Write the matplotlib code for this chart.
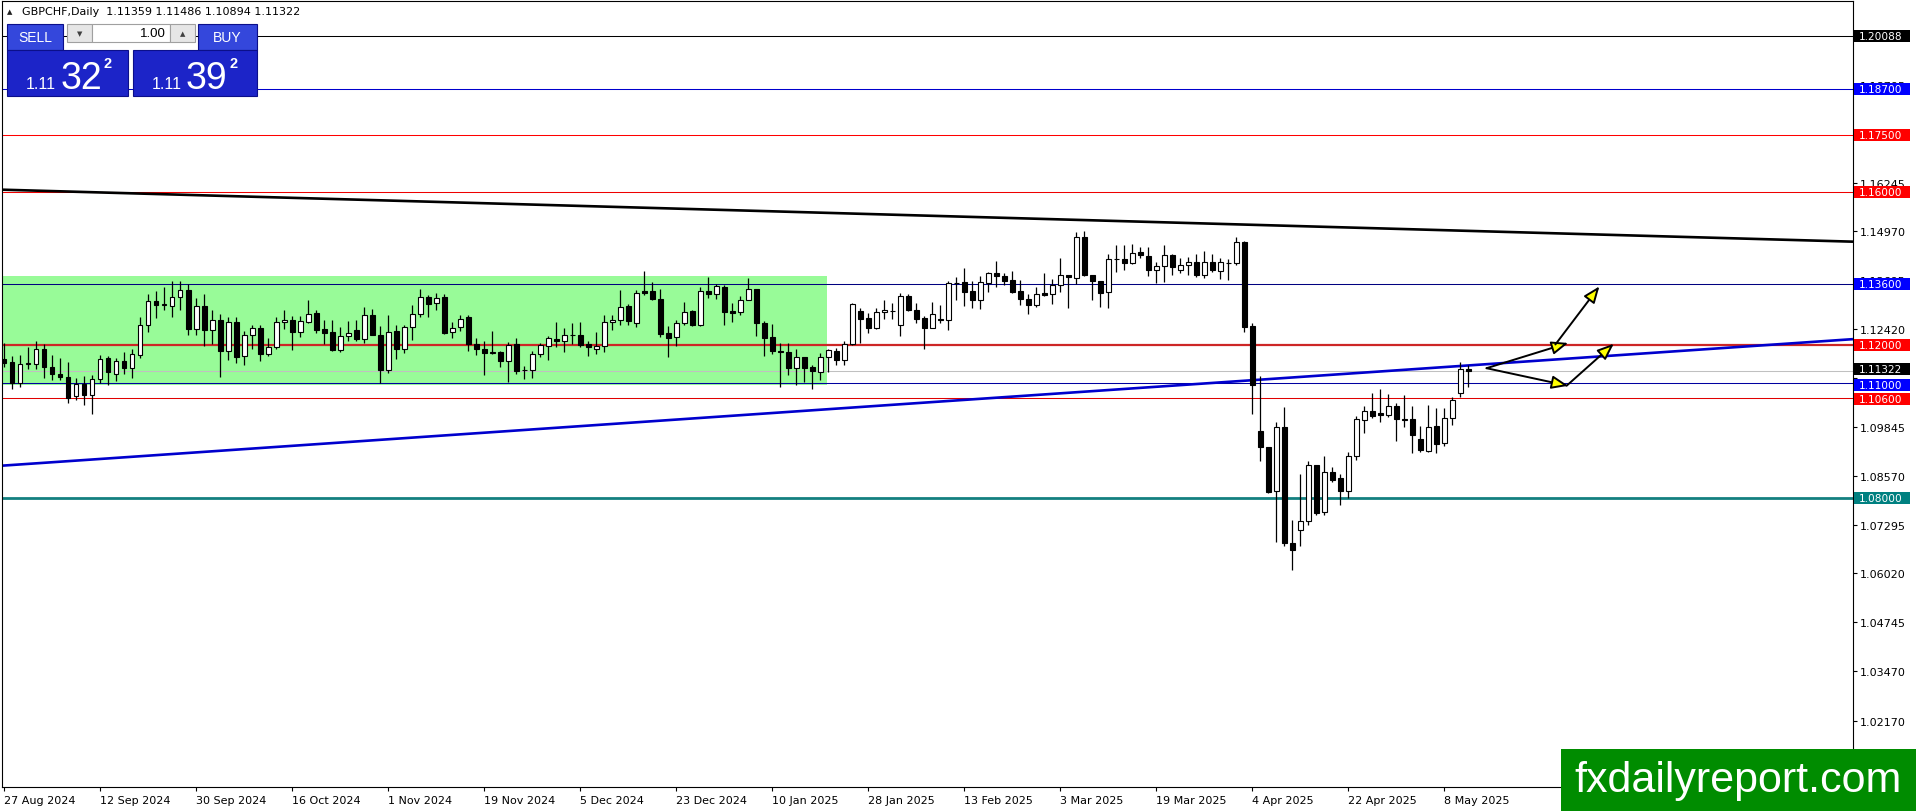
import matplotlib
matplotlib.use('Agg')
import matplotlib.pyplot as plt
import matplotlib.transforms as mtransforms
from matplotlib.patches import Rectangle, FancyArrowPatch
import numpy as np

# GBPCHF daily candles, 27 Aug 2024 .. 13 May 2025 (no bars on 25 Dec / 1 Jan)
opens = [
    # bars 0-45
    1.1164, 1.1155, 1.1101, 1.1150, 1.1151, 1.1190, 1.1143, 1.1123, 1.1117, 1.1065,
    1.1097, 1.1070, 1.1110, 1.1166, 1.1125, 1.1157, 1.1140, 1.1173, 1.1253, 1.1314,
    1.1304, 1.1303, 1.1324, 1.1344, 1.1242, 1.1303, 1.1239, 1.1266, 1.1185, 1.1261,
    1.1170, 1.1227, 1.1243, 1.1177, 1.1195, 1.1259, 1.1264, 1.1234, 1.1260, 1.1283,
    1.1241, 1.1233, 1.1186, 1.1224, 1.1240, 1.1216,
    # bars 46-91
    1.1279, 1.1227, 1.1133, 1.1237, 1.1190, 1.1248, 1.1282, 1.1324, 1.1310, 1.1324,
    1.1233, 1.1246, 1.1272, 1.1203, 1.1188, 1.1180, 1.1182, 1.1157, 1.1201, 1.1133,
    1.1134, 1.1175, 1.1198, 1.1216, 1.1211, 1.1227, 1.1225, 1.1203, 1.1189, 1.1198,
    1.1261, 1.1266, 1.1303, 1.1257, 1.1340, 1.1340, 1.1321, 1.1230, 1.1220, 1.1256,
    1.1288, 1.1253, 1.1340, 1.1334, 1.1351, 1.1288,
    # bars 92-138
    1.1286, 1.1318, 1.1345, 1.1258, 1.1221, 1.1183, 1.1182, 1.1139, 1.1167, 1.1141,
    1.1130, 1.1169, 1.1184, 1.1160, 1.1202, 1.1289, 1.1270, 1.1243, 1.1285, 1.1288,
    1.1251, 1.1327, 1.1290, 1.1270, 1.1245, 1.1267, 1.1264, 1.1361, 1.1364, 1.1341,
    1.1317, 1.1363, 1.1387, 1.1379, 1.1369, 1.1341, 1.1319, 1.1304, 1.1335, 1.1332,
    1.1356, 1.1383, 1.1374, 1.1482, 1.1382, 1.1367, 1.1338,
    # bars 139-183
    1.1424, 1.1424, 1.1415, 1.1443, 1.1432, 1.1395, 1.1406, 1.1435, 1.1395, 1.1408,
    1.1418, 1.1383, 1.1416, 1.1393, 1.1415, 1.1413, 1.1469, 1.1250, 1.0974, 1.0934,
    1.0817, 1.0986, 1.0682, 1.0715, 1.0739, 1.0886, 1.0762, 1.0867, 1.0851, 1.0817,
    1.0910, 1.1004, 1.1026, 1.1021, 1.1016, 1.1041, 1.1006, 1.1006, 1.0954, 1.0923,
    1.0989, 1.0943, 1.1010, 1.1073, 1.11359,
]
highs = [
    1.1205, 1.1170, 1.1173, 1.1194, 1.1211, 1.1201, 1.1173, 1.1166, 1.1155, 1.1114,
    1.1118, 1.1120, 1.1173, 1.1170, 1.1166, 1.1182, 1.1188, 1.1272, 1.1333, 1.1342,
    1.1351, 1.1366, 1.1366, 1.1359, 1.1323, 1.1334, 1.1290, 1.1281, 1.1272, 1.1272,
    1.1237, 1.1253, 1.1253, 1.1217, 1.1272, 1.1290, 1.1275, 1.1275, 1.1317, 1.1290,
    1.1266, 1.1266, 1.1246, 1.1262, 1.1266, 1.1298,
    1.1294, 1.1249, 1.1277, 1.1253, 1.1253, 1.1305, 1.1347, 1.1331, 1.1337, 1.1334,
    1.1259, 1.1279, 1.1277, 1.1218, 1.1211, 1.1236, 1.1185, 1.1207, 1.1218, 1.1144,
    1.1183, 1.1205, 1.1223, 1.1259, 1.1244, 1.1256, 1.1259, 1.1210, 1.1234, 1.1279,
    1.1279, 1.1344, 1.1307, 1.1344, 1.1392, 1.1364, 1.1347, 1.1249, 1.1266, 1.1311,
    1.1290, 1.1351, 1.1377, 1.1359, 1.1357, 1.1310,
    1.1328, 1.1374, 1.1346, 1.1263, 1.1254, 1.1206, 1.1206, 1.1190, 1.1168, 1.1147,
    1.1180, 1.1189, 1.1193, 1.1210, 1.1310, 1.1296, 1.1284, 1.1296, 1.1317, 1.1310,
    1.1337, 1.1334, 1.1310, 1.1276, 1.1312, 1.1304, 1.1367, 1.1377, 1.1400, 1.1367,
    1.1380, 1.1391, 1.1419, 1.1387, 1.1393, 1.1371, 1.1334, 1.1352, 1.1387, 1.1373,
    1.1426, 1.1384, 1.1495, 1.1499, 1.1383, 1.1368, 1.1437,
    1.1461, 1.1461, 1.1464, 1.1456, 1.1456, 1.1418, 1.1460, 1.1439, 1.1428, 1.1430,
    1.1439, 1.1445, 1.1437, 1.1426, 1.1425, 1.1482, 1.1473, 1.1257, 1.1119, 1.0934,
    1.0999, 1.1038, 1.0743, 1.0861, 1.0897, 1.0887, 1.0908, 1.0880, 1.0862, 1.0921,
    1.1015, 1.1039, 1.1073, 1.1084, 1.1071, 1.1047, 1.1069, 1.1039, 1.0989, 1.1043,
    1.1036, 1.1036, 1.1064, 1.1156, 1.11486,
]
lows = [
    1.1142, 1.1085, 1.1090, 1.1138, 1.1138, 1.1114, 1.1107, 1.1107, 1.1049, 1.1057,
    1.1042, 1.1020, 1.1101, 1.1094, 1.1105, 1.1123, 1.1114, 1.1166, 1.1233, 1.1270,
    1.1290, 1.1273, 1.1290, 1.1227, 1.1227, 1.1197, 1.1203, 1.1116, 1.1160, 1.1153,
    1.1147, 1.1190, 1.1159, 1.1170, 1.1190, 1.1242, 1.1186, 1.1221, 1.1257, 1.1231,
    1.1203, 1.1183, 1.1181, 1.1211, 1.1211, 1.1205,
    1.1225, 1.1099, 1.1127, 1.1163, 1.1179, 1.1212, 1.1273, 1.1273, 1.1292, 1.1229,
    1.1218, 1.1237, 1.1185, 1.1173, 1.1121, 1.1175, 1.1142, 1.1103, 1.1124, 1.1112,
    1.1114, 1.1169, 1.1160, 1.1194, 1.1182, 1.1203, 1.1194, 1.1170, 1.1175, 1.1182,
    1.1238, 1.1253, 1.1253, 1.1246, 1.1330, 1.1318, 1.1220, 1.1168, 1.1197, 1.1253,
    1.1250, 1.1250, 1.1323, 1.1321, 1.1253, 1.1260,
    1.1278, 1.1317, 1.1223, 1.1170, 1.1177, 1.1089, 1.1122, 1.1095, 1.1103, 1.1084,
    1.1109, 1.1130, 1.1148, 1.1148, 1.1200, 1.1206, 1.1232, 1.1241, 1.1269, 1.1269,
    1.1223, 1.1289, 1.1258, 1.1189, 1.1243, 1.1258, 1.1239, 1.1317, 1.1302, 1.1296,
    1.1295, 1.1339, 1.1352, 1.1357, 1.1337, 1.1304, 1.1282, 1.1299, 1.1328, 1.1306,
    1.1338, 1.1296, 1.1358, 1.1380, 1.1317, 1.1299, 1.1297,
    1.1391, 1.1397, 1.1412, 1.1428, 1.1380, 1.1363, 1.1365, 1.1382, 1.1389, 1.1383,
    1.1378, 1.1374, 1.1391, 1.1373, 1.1371, 1.1408, 1.1235, 1.1019, 1.0897, 1.0812,
    1.0684, 1.0675, 1.0610, 1.0675, 1.0730, 1.0754, 1.0754, 1.0841, 1.0780, 1.0800,
    1.0899, 1.0969, 1.1008, 1.0997, 1.1012, 1.0948, 1.0984, 1.0917, 1.0921, 1.0919,
    1.0917, 1.0935, 1.0990, 1.1063, 1.10894,
]
closes = [
    1.1153, 1.1101, 1.1149, 1.1152, 1.1190, 1.1143, 1.1123, 1.1116, 1.1061, 1.1097,
    1.1069, 1.1110, 1.1164, 1.1130, 1.1157, 1.1140, 1.1175, 1.1253, 1.1316, 1.1304,
    1.1306, 1.1324, 1.1344, 1.1242, 1.1303, 1.1239, 1.1266, 1.1185, 1.1261, 1.1169,
    1.1227, 1.1243, 1.1177, 1.1194, 1.1259, 1.1264, 1.1234, 1.1262, 1.1281, 1.1238,
    1.1231, 1.1186, 1.1224, 1.1230, 1.1216, 1.1279,
    1.1227, 1.1133, 1.1233, 1.1190, 1.1248, 1.1282, 1.1324, 1.1308, 1.1323, 1.1231,
    1.1244, 1.1269, 1.1201, 1.1188, 1.1179, 1.1182, 1.1157, 1.1199, 1.1131, 1.1134,
    1.1175, 1.1199, 1.1218, 1.1211, 1.1227, 1.1226, 1.1199, 1.1194, 1.1198, 1.1261,
    1.1266, 1.1300, 1.1262, 1.1337, 1.1336, 1.1321, 1.1229, 1.1218, 1.1256, 1.1285,
    1.1253, 1.1340, 1.1334, 1.1353, 1.1286, 1.1283,
    1.1318, 1.1345, 1.1257, 1.1219, 1.1183, 1.1182, 1.1139, 1.1167, 1.1139, 1.1131,
    1.1169, 1.1186, 1.1160, 1.1202, 1.1308, 1.1269, 1.1243, 1.1286, 1.1290, 1.1289,
    1.1327, 1.1290, 1.1269, 1.1245, 1.1280, 1.1264, 1.1361, 1.1363, 1.1339, 1.1317,
    1.1364, 1.1387, 1.1379, 1.1367, 1.1339, 1.1319, 1.1304, 1.1332, 1.1330, 1.1357,
    1.1382, 1.1377, 1.1482, 1.1382, 1.1366, 1.1337, 1.1424,
    1.1425, 1.1415, 1.1441, 1.1434, 1.1395, 1.1406, 1.1435, 1.1404, 1.1409, 1.1418,
    1.1384, 1.1416, 1.1395, 1.1416, 1.1414, 1.1469, 1.1247, 1.1095, 1.0932, 1.0815,
    1.0986, 1.0681, 1.0664, 1.0739, 1.0886, 1.0761, 1.0867, 1.0847, 1.0817, 1.0910,
    1.1006, 1.1026, 1.1013, 1.1016, 1.1039, 1.1006, 1.1003, 1.0965, 1.0925, 1.0984,
    1.0942, 1.1010, 1.1056, 1.1136, 1.11322,
]

date_labels = ['27 Aug 2024', '12 Sep 2024', '30 Sep 2024', '16 Oct 2024', '1 Nov 2024',
               '19 Nov 2024', '5 Dec 2024', '23 Dec 2024', '10 Jan 2025', '28 Jan 2025',
               '13 Feb 2025', '3 Mar 2025', '19 Mar 2025', '4 Apr 2025', '22 Apr 2025',
               '8 May 2025']
label_step = 12  # one date label every 12 bars

price_ticks = [1.18795, 1.16245, 1.14970, 1.13695, 1.12420, 1.11145, 1.09845,
               1.08570, 1.07295, 1.06020, 1.04745, 1.03470, 1.02170]
# the 1.11145 tick label sits fully under the price labels, so it is left blank
price_tick_labels = ['1.18795', '1.16245', '1.14970', '1.13695', '1.12420', '',
                     '1.09845', '1.08570', '1.07295', '1.06020', '1.04745', '1.03470',
                     '1.02170']

# horizontal levels drawn on the chart
levels = [1.20088, 1.18700, 1.17500, 1.16000, 1.13600, 1.12000, 1.11322, 1.11000, 1.10600, 1.08000]
level_line_colors = ['black', '#0000CD', '#FF0000', '#EE0000', '#000080', '#CD2626',
                     '#C0C0C0', '#0000A0', '#E00000', '#138080']
level_line_widths = [0.75, 0.75, 0.75, 0.75, 0.75, 1.6, 0.75, 0.75, 0.75, 2.0]
level_label_colors = ['black', '#0000FF', '#FF0000', '#FF0000', '#0000FF', '#FF0000',
                      'black', '#0000FF', '#FF0000', '#008080']
# small pixel nudges so the crowded labels near the price do not overlap
level_label_nudge = [0, 0, 0, 0, 0, 0, -1.5, 1.5, 0.5, 0]

# trendlines: (bar, price) anchors
falling_line = [(-0.25, 1.1606), (231.1, 1.1470)]
rising_line = [(-0.25, 1.0884), (231.1, 1.1215)]

# consolidation box: bars and price range
box_bars = (-1.0, 102.9)
box_prices = (1.1095, 1.1380)

# arrows: (start bar, start price, end bar, end price)
arrows = [
    (185.3, 1.1139, 195.5, 1.1205),
    (193.9, 1.1201, 199.4, 1.1353),
    (185.3, 1.1139, 195.5, 1.1093),
    (195.3, 1.1093, 201.2, 1.1203),
]

W, H = 1916, 812
AX_L, AX_R, AX_T, AX_B = 2, 1853, 2, 788
fig = plt.figure(figsize=(W / 100, H / 100), dpi=100)
ax = fig.add_axes([AX_L / W, 1 - AX_B / H, (AX_R - AX_L) / W, (AX_B - AX_T) / H])
ax.set_xlim(-0.25, 231.1)
ax.set_ylim(1.00434, 1.20996)
py = (1.20996 - 1.00434) / (AX_B - AX_T)  # price per pixel

# pixel coords, y pointing down
pix = mtransforms.Affine2D().scale(1 / W, -1 / H).translate(0, 1) + fig.transFigure

o = np.array(opens)
h = np.array(highs)
l = np.array(lows)
c = np.array(closes)
x = np.arange(len(o))

ax.add_patch(Rectangle((box_bars[0], box_prices[0]), box_bars[1] - box_bars[0],
                       box_prices[1] - box_prices[0], facecolor='#98FB98',
                       edgecolor='none', zorder=1))

for lv, col, lw in zip(levels, level_line_colors, level_line_widths):
    ax.axhline(lv, color=col, lw=lw, zorder=2)

for pts, col in ((falling_line, 'black'), (rising_line, '#0000CD')):
    xs, ys = zip(*pts)
    ax.plot(xs, ys, color=col, lw=1.9, zorder=2.5, solid_capstyle='butt')

ax.vlines(x, l, h, color='black', lw=0.9, zorder=3)
up = c >= o
body_lo = np.minimum(o, c)
body_h = np.maximum(np.abs(c - o), 0.00002)
ax.bar(x, body_h, bottom=body_lo, width=0.62, color=np.where(up, 'white', 'black'),
       edgecolor='black', linewidth=0.8, zorder=4)

for x0, y0, x1, y1 in arrows:
    ax.add_patch(FancyArrowPatch((x0, y0), (x1, y1),
                                 arrowstyle='-|>,head_length=10,head_width=4',
                                 mutation_scale=1, shrinkA=0, shrinkB=0,
                                 facecolor='#FFFF00', edgecolor='black', lw=1.4,
                                 zorder=6))

# axes styling
for sp in ax.spines.values():
    sp.set_color('black')
    sp.set_linewidth(0.8)
ax.yaxis.tick_right()
ax.set_yticks(price_ticks)
ax.set_yticklabels(price_tick_labels)
ax.tick_params(axis='y', direction='out', length=3, width=0.8, pad=2, labelsize=8)
ax.set_xticks(np.arange(len(date_labels)) * label_step)
ax.set_xticklabels(date_labels, ha='left')
ax.tick_params(axis='x', direction='out', length=3, width=0.8, pad=3, labelsize=8)

# coloured level labels on the price axis
lab_tr = mtransforms.blended_transform_factory(pix, ax.transData)
for lv, col, nudge in zip(levels, level_label_colors, level_label_nudge):
    yc = lv - nudge * py
    ax.add_patch(Rectangle((AX_R + 1, yc - 6 * py), 56, 12 * py, transform=lab_tr,
                           facecolor=col, edgecolor='none', clip_on=False, zorder=10))
    ax.text(AX_R + 6, yc, f'{lv:.5f}', transform=lab_tr, ha='left', va='center',
            color='white', fontsize=7.6, clip_on=False, zorder=11)

# chart title
fig.text(7, 12, '▲', transform=pix, fontsize=5, va='center', color='#202020')
fig.text(22, 12, 'GBPCHF,Daily  1.11359 1.11486 1.10894 1.11322', transform=pix,
         fontsize=8, va='center', color='black')

# one-click trading panel
btn = '#3447DC'
dark = '#1C24C8'
edge = '#0B0F8A'
panel = [
    ((7, 25, 56, 26), btn, edge),
    ((198, 25, 59, 26), btn, edge),
    ((67, 25, 25, 18), '#E6E6E6', '#A0A0A0'),
    ((92, 25, 78, 18), 'white', '#A0A0A0'),
    ((170, 25, 25, 18), '#E6E6E6', '#A0A0A0'),
    ((7, 51, 121, 46), dark, edge),
    ((133, 51, 124, 46), dark, edge),
]
for (px0, py0, pw, ph), fc, ec in panel:
    fig.add_artist(Rectangle((px0, py0), pw, ph, transform=pix, facecolor=fc,
                             edgecolor=ec, lw=0.8, zorder=20))
fig.text(35, 38, 'SELL', transform=pix, ha='center', va='center', color='white',
         fontsize=10, family='Liberation Sans', zorder=21)
fig.text(227, 38, 'BUY', transform=pix, ha='center', va='center', color='white',
         fontsize=10, family='Liberation Sans', zorder=21)
fig.text(79.5, 34, '▼', transform=pix, ha='center', va='center', color='#404040',
         fontsize=5, zorder=21)
fig.text(182.5, 34, '▲', transform=pix, ha='center', va='center', color='#404040',
         fontsize=5, zorder=21)
fig.text(166, 34, '1.00', transform=pix, ha='right', va='center', color='black',
         fontsize=9.5, family='Liberation Sans', zorder=21)
for x_small, x_big, x_sup, big in [(26, 61, 104, '32'), (152, 186, 230, '39')]:
    fig.text(x_small, 89, '1.11', transform=pix, ha='left', va='baseline',
             color='white', fontsize=11.5, family='Liberation Sans', zorder=21)
    fig.text(x_big, 89, big, transform=pix, ha='left', va='baseline', color='white',
             fontsize=27, family='Liberation Sans', zorder=21)
    fig.text(x_sup, 68, '2', transform=pix, ha='left', va='baseline', color='white',
             fontsize=10.5, family='Liberation Sans', weight='bold', zorder=21)

# watermark
fig.add_artist(Rectangle((1561, 750), W - 1561, 62, transform=pix,
                         facecolor='#008C00', edgecolor='none', zorder=20))
fig.text(1738, 781, 'fxdailyreport.com', transform=pix, ha='center', va='center',
         color='white', fontsize=31, family='Liberation Sans', zorder=21)

fig.savefig('out.png', dpi=100)
